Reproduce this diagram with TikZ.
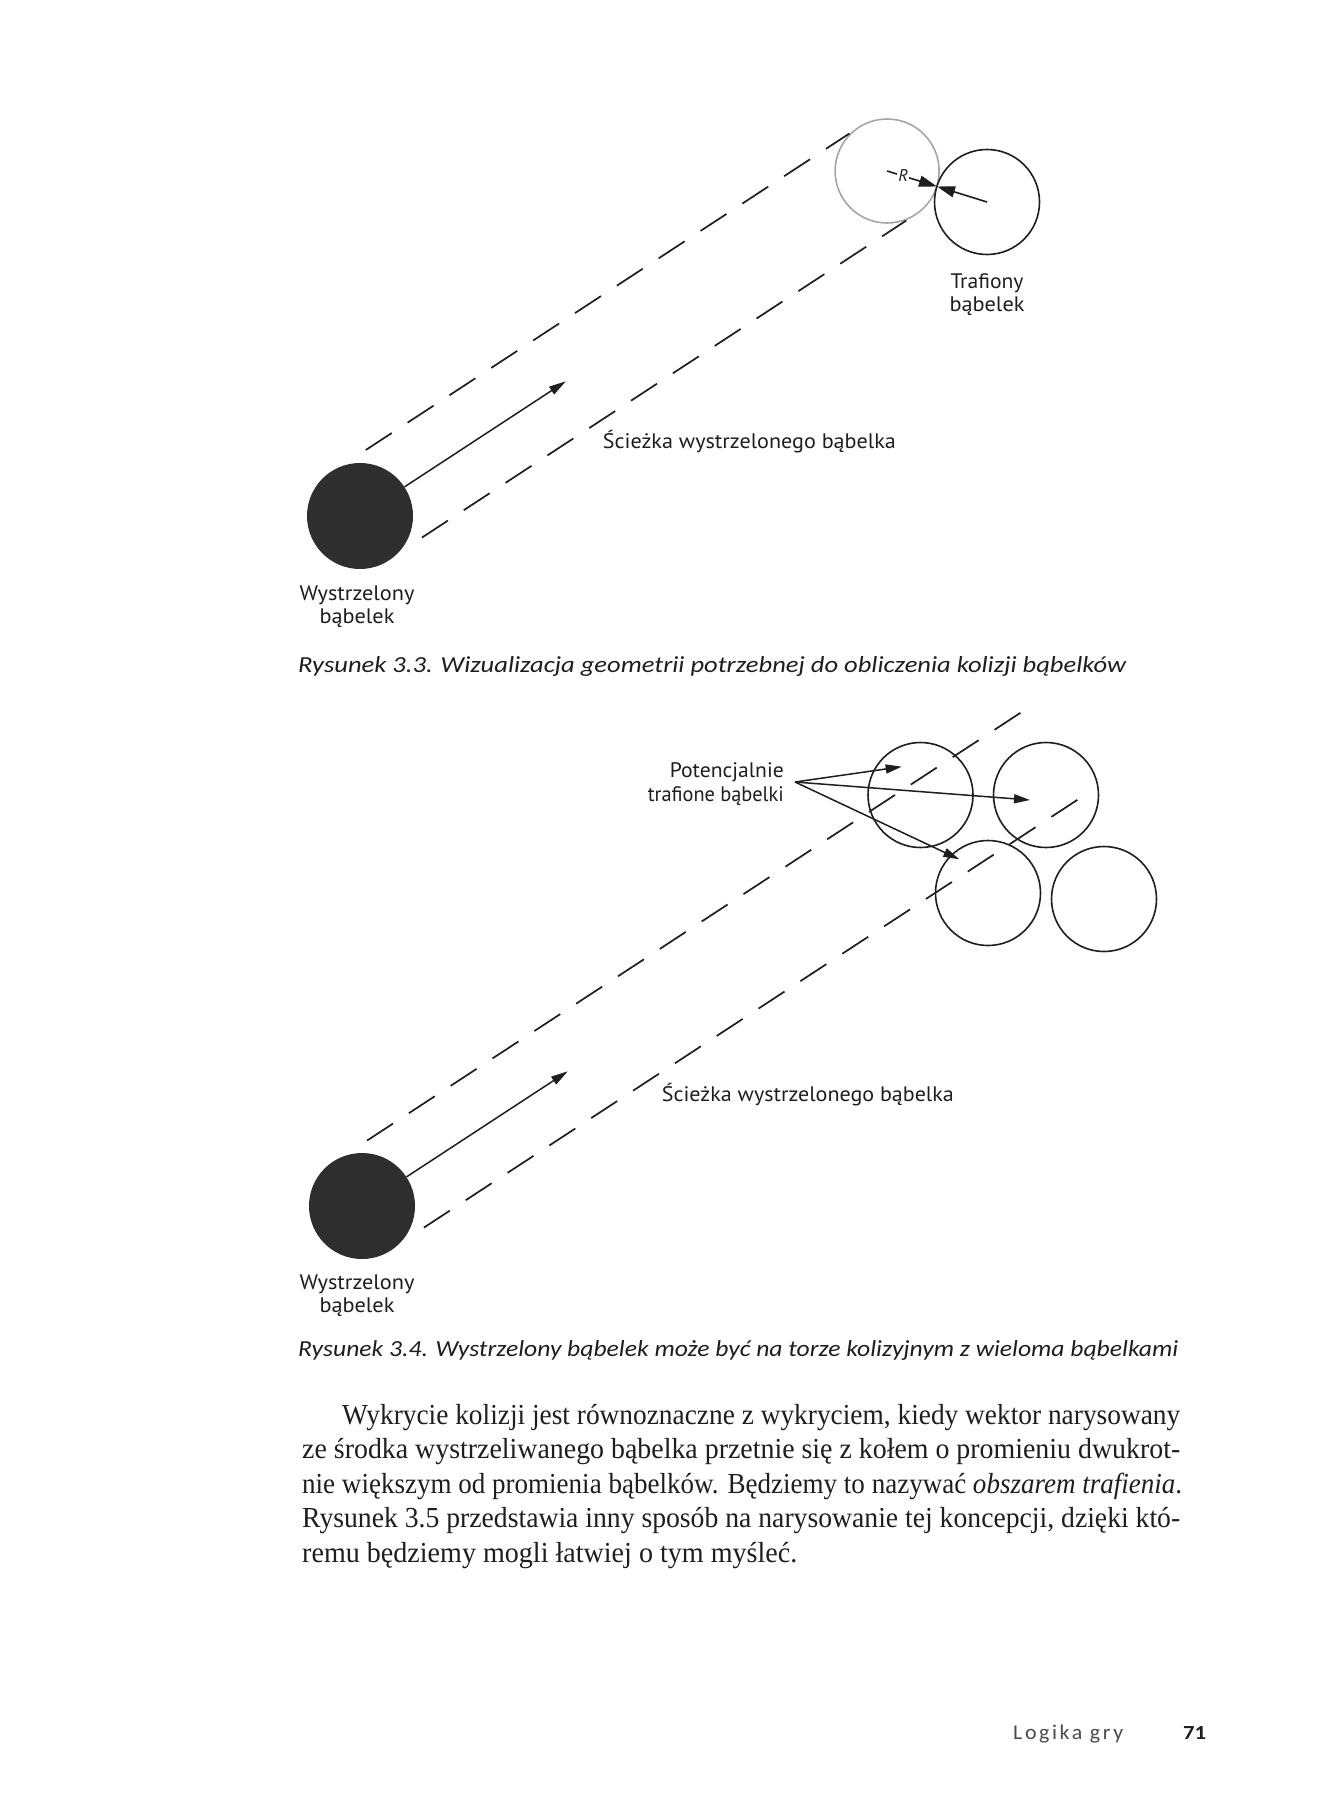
\documentclass[tikz,border=0pt]{standalone}
\usepackage{fontspec}
\usepackage{graphicx}
\usetikzlibrary{arrows.meta,calc}
\newfontfamily\labfont{PT Sans}
\newfontfamily\capfontfam{Carlito}
\newfontfamily\bodyfont{Liberation Serif}
\newfontfamily\footfont{Carlito}[LetterSpace=12]
\newcommand\fitw[2]{\resizebox{#1}{\height}{#2}}
\definecolor{ink}{HTML}{1E1E1E}
\definecolor{shotgray}{HTML}{2E2E2E}
\definecolor{ghostgray}{HTML}{A6A6A6}
\definecolor{footgray}{HTML}{4A4A4A}
\tikzset{
  lab/.style={font=\labfont\fontsize{21}{24}\selectfont, inner sep=0pt, text=ink},
  capt/.style={font=\capfontfam\itshape\fontsize{23}{26}\selectfont, inner sep=0pt, anchor=base west, text=ink},
  body/.style={font=\bodyfont\fontsize{29}{32}\selectfont, inner sep=0pt, anchor=base west, text=ink},
  pathline/.style={line width=1.7pt, dash pattern=on 31pt off 19pt, draw=ink},
  bubble/.style={circle, draw=ink, line width=1.6pt, minimum size=105pt, inner sep=0pt},
  ghostbubble/.style={circle, draw=ghostgray, line width=1.6pt, minimum size=104pt, inner sep=0pt},
  shotbubble/.style={circle, fill=shotgray, minimum size=106pt, inner sep=0pt},
  pointer/.style={line width=1.5pt, draw=ink, -{Triangle[length=16pt,width=9pt]}},
  rpointer/.style={line width=1.6pt, draw=ink, -{Triangle[length=18pt,width=11pt]}},
  shotarrow/.style={line width=1.5pt, draw=ink, -{Triangle[length=17pt,width=9pt]}}
}
\begin{document}
\begin{tikzpicture}[x=1pt,y=-1pt]
\useasboundingbox[fill=white] (0,0) rectangle (1339,1811);

% ---------------- Figure 3.3 ----------------
\node[shotbubble] (shotA) at (360,516) {};
\node[ghostbubble] (ghostA) at (887.1,171) {};
\node[bubble] (hitA) at (987,202) {};
\coordinate (touchA) at (937,186.5);
\coordinate (uA1) at (365.8,450.0);
\coordinate (uA2) at (849.4,133.5);
\coordinate (lA1) at (421.9,537.6);
\coordinate (lA2) at (906.3,220.5);
\coordinate (tipA) at (565.8,381.3);
\draw[pathline] (uA1) -- (uA2);
\draw[pathline] (lA1) -- (lA2);
\draw[shotarrow] (shotA) -- (tipA);
\draw[rpointer] (ghostA.center) -- node[pos=0.32, fill=white, inner sep=1pt, font=\labfont\itshape\fontsize{17}{17}\selectfont, text=ink] (rlab) {R} (touchA);
\draw[rpointer] (hitA.center) -- (touchA);
\node[lab, anchor=base] (trafA1) at (987,288) {\fitw{73pt}{Trafiony}};
\node[lab, anchor=base] (trafA2) at (987,311.7) {\fitw{75pt}{bąbelek}};
\node[lab, anchor=base west] (pathA) at (602.7,448) {\fitw{293pt}{Ścieżka wystrzelonego bąbelka}};
\node[lab, anchor=base] (wysA1) at (357,600) {\fitw{115pt}{Wystrzelony}};
\node[lab, anchor=base] (wysA2) at (357,623) {\fitw{75pt}{bąbelek}};
\node[capt] (capA) at (298,672) {\fitw{828pt}{Rysunek 3.3. Wizualizacja geometrii potrzebnej do obliczenia kolizji bąbelków}};

% ---------------- Figure 3.4 ----------------
\node[shotbubble] (shotB) at (362,1206) {};
\node[bubble] (c1) at (920.5,795) {};
\node[bubble] (c2) at (1046,795) {};
\node[bubble] (c3) at (988,893) {};
\node[bubble] (c4) at (1104,899) {};
\coordinate (uB1) at (367.0,1140.6);
\coordinate (uB2) at (1021.2,712.3);
\coordinate (lB1) at (423.9,1227.6);
\coordinate (lB2) at (1078.2,799.3);
\coordinate (tipB) at (567.8,1071.3);
\draw[pathline] (uB1) -- (uB2);
\draw[pathline] (lB1) -- (lB2);
\draw[shotarrow] (shotB) -- (tipB);
\coordinate (potsrc) at (795,782);
\coordinate (pt1) at (901.7,766.7);
\coordinate (pt2) at (1030,800);
\coordinate (pt3) at (959.3,859.3);
\draw[pointer] (potsrc) -- (pt1);
\draw[pointer] (potsrc) -- (pt2);
\draw[pointer] (potsrc) -- (pt3);
\node[lab, anchor=base east] (pot1) at (784,777) {\fitw{114pt}{Potencjalnie}};
\node[lab, anchor=base east] (pot2) at (784,801.7) {\fitw{136pt}{trafione bąbelki}};
\node[lab, anchor=base west] (pathB) at (661.7,1101.7) {\fitw{292pt}{Ścieżka wystrzelonego bąbelka}};
\node[lab, anchor=base] (wysB1) at (357,1289) {\fitw{115pt}{Wystrzelony}};
\node[lab, anchor=base] (wysB2) at (357,1312) {\fitw{75pt}{bąbelek}};
\node[capt] (capB) at (298,1356.7) {\fitw{880pt}{Rysunek 3.4. Wystrzelony bąbelek może być na torze kolizyjnym z wieloma bąbelkami}};

% ---------------- Body text ----------------
\node[body] (b1) at (342,1424) {\fitw{838pt}{Wykrycie kolizji jest równoznaczne z wykryciem, kiedy wektor narysowany}};
\node[body] (b2) at (302,1458.5) {\fitw{878pt}{ze środka wystrzeliwanego bąbelka przetnie się z kołem o promieniu dwukrot-}};
\node[body] (b3) at (302,1493) {\fitw{880pt}{nie większym od promienia bąbelków. Będziemy to nazywać \textit{obszarem trafienia}.}};
\node[body] (b4) at (302,1527.5) {\fitw{878pt}{Rysunek 3.5 przedstawia inny sposób na narysowanie tej koncepcji, dzięki któ-}};
\node[body] (b5) at (302,1562) {\fitw{495pt}{remu będziemy mogli łatwiej o tym myśleć.}};

% ---------------- Footer ----------------
\node[font=\footfont\fontsize{21}{22}\selectfont, text=footgray, inner sep=0pt, anchor=base west] (foot) at (1013,1739) {\fitw{110pt}{Logika gry}};
\node[font=\capfontfam\bfseries\fontsize{20}{20}\selectfont, text=ink, inner sep=0pt, anchor=base west] (pnum) at (1183,1739) {\fitw{23pt}{71}};
\end{tikzpicture}
\end{document}
